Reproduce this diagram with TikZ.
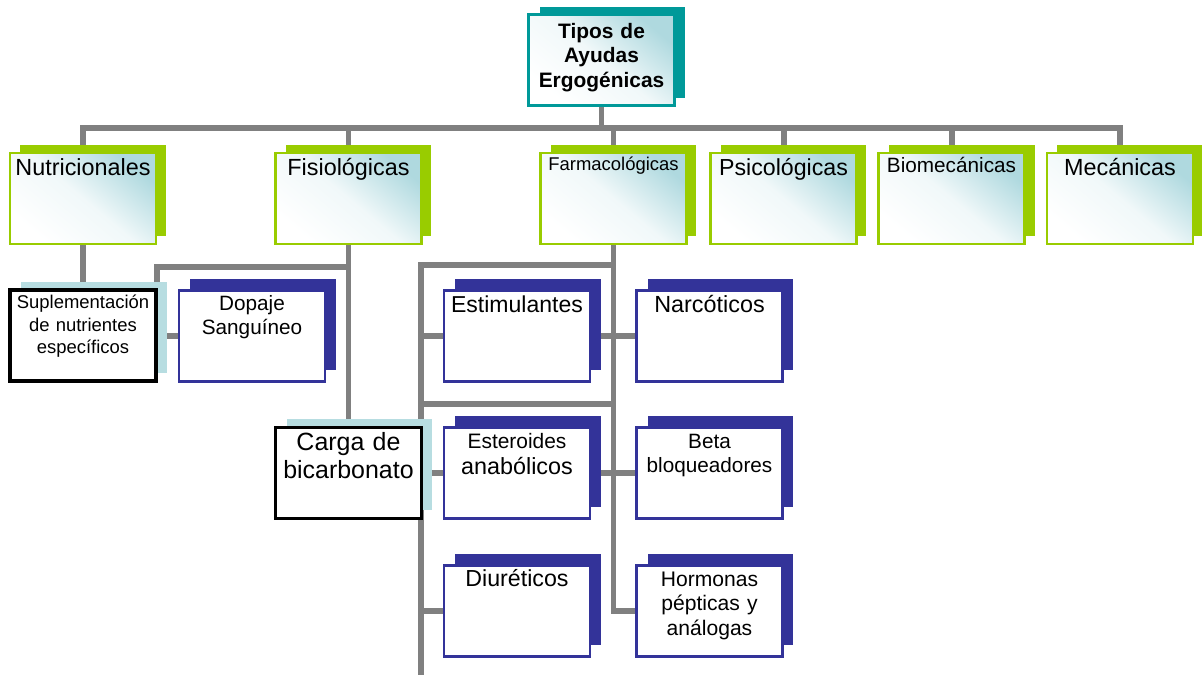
\documentclass[tikz,border=0pt]{standalone}
\usepackage{fontspec}
\setmainfont{Liberation Sans}
\usetikzlibrary{shadows,backgrounds}
\definecolor{leaf}    {HTML}{99CC00}
\definecolor{navyink} {HTML}{333399}
\definecolor{deepteal}{HTML}{009999}
\definecolor{paleblue}{HTML}{B7DDE1}
\definecolor{sky}     {HTML}{AFD9DF}
\definecolor{wiregray}{HTML}{808080}
\newcommand{\fs}[2]{\fontsize{#1}{#2}\selectfont}
\tikzset{
  wire/.style={draw=wiregray,line width=3.4pt},
  card/.style={minimum width=2.92cm,minimum height=1.82cm,text width=2.92cm,
               inner sep=0pt,align=center},
  head/.code={\pgfmathsetlengthmacro\headdepth{1.82cm-#1}%
              \tikzset{text height=#1,text depth=\headdepth}},
  topcard/.style={card,draw=deepteal,line width=1.5pt,
                  top color=sky,bottom color=white,middle color=sky!18!white,shading angle=-40,
                  general shadow={fill=deepteal,draw=none,shadow xshift=0.22cm,shadow yshift=0.16cm}},
  kindcard/.style={card,draw=leaf,line width=1.6pt,
                   top color=sky,bottom color=white,middle color=sky!18!white,shading angle=-40,
                   general shadow={fill=leaf,draw=none,shadow xshift=0.2cm,shadow yshift=0.17cm}},
  drugcard/.style={card,draw=navyink,line width=1.5pt,fill=white,
                   general shadow={fill=navyink,draw=none,shadow xshift=0.22cm,shadow yshift=0.23cm}},
  plaincard/.style={card,draw=black,line width=1.8pt,fill=white,
                    general shadow={fill=paleblue,draw=none,shadow xshift=0.22cm,shadow yshift=0.17cm}}
}
\begin{document}
\begin{tikzpicture}[x=0.02cm,y=-0.02cm]
  \useasboundingbox (0,0) rectangle (1202,674);

  % root
  \node[topcard,head=0.47cm,font=\bfseries\fs{11.9}{14}] (top) at (601.5,60)
    {Tipos de\\Ayudas\\Ergogénicas};

  % kinds of aids
  \node[kindcard,head=0.45cm,font=\fs{13.3}{15}] (nutri) at (83,198.5) {Nutricionales};
  \node[kindcard,head=0.45cm,font=\fs{13.3}{15}] (fisio) at (348.5,198.5) {Fisiológicas};
  \node[kindcard,head=0.35cm,font=\fs{10.5}{13}] (farma) at (613.5,198.5) {Farmacológicas};
  \node[kindcard,head=0.45cm,font=\fs{13.2}{15}] (psico) at (783.5,198.5) {Psicológicas};
  \node[kindcard,head=0.38cm,font=\fs{11.8}{14}] (biom) at (951.5,198.5) {Biomecánicas};
  \node[kindcard,head=0.45cm,font=\fs{13.3}{15}] (mec) at (1120,198.5) {Mecánicas};

  % nutritional / physiological
  \node[plaincard,head=0.37cm,font=\fs{10.5}{12.8}] (supl) at (83,335.5)
    {Suplementación\\de nutrientes\\específicos};
  \node[drugcard,head=0.39cm,font=\fs{11.8}{14.2}] (dopaje) at (252,336)
    {Dopaje\\Sanguíneo};
  \node[plaincard,head=0.46cm,font=\fs{14.2}{16}] (carga) at (348.5,473)
    {Carga de\\bicarbonato};

  % pharmacological
  \node[drugcard,head=0.44cm,font=\fs{13.1}{15}] (estim) at (517,336) {Estimulantes};
  \node[drugcard,head=0.44cm,font=\fs{13.3}{15}] (narc) at (709.5,336) {Narcóticos};
  \node[drugcard,head=0.41cm,font=\fs{13.3}{15}] (ester) at (517,473)
    {{\fs{11.9}{15}Esteroides}\\anabólicos};
  \node[drugcard,head=0.41cm,font=\fs{11.8}{14.2}] (beta) at (709.5,473)
    {Beta\\bloqueadores};
  \node[drugcard,head=0.42cm,font=\fs{13.2}{15}] (diur) at (517,611) {Diuréticos};
  \node[drugcard,head=0.41cm,font=\fs{12}{14}] (horm) at (709.5,611)
    {Hormonas\\pépticas y\\análogas};

  \coordinate (bar) at (601.5,128);
  \coordinate (fisj) at (348.5,267);
  \coordinate (dopj) at (157,336);
  \coordinate (farj) at (613.5,265);
  \coordinate (farl) at (421,265);
  \coordinate (farend) at (421,676);
  \coordinate (farbot) at (421,404);

  \begin{scope}[on background layer]
    \draw[wire] (top.south) -- (bar);
    \draw[wire] (nutri.north) |- (bar) -| (mec.north);
    \foreach \n in {fisio,farma,psico,biom}
      \draw[wire] (\n.north) -- (\n.north |- bar);
    \draw[wire] (nutri.south) -- (supl.north);
    \draw[wire] (fisio.south) -- (carga.north);
    \draw[wire] (fisj) -| (dopj) -- (dopaje.west);
    \draw[wire] (farma.south) |- (horm.west);
    \draw[wire] (farj) -| (farend);
    \draw[wire] (farbot) -- (farbot -| farma.south);
    \draw[wire] (farl |- estim.west) -- (estim.west);
    \draw[wire] (estim.east) -- (narc.west);
    \draw[wire] (carga.east) -- (ester.west);
    \draw[wire] (ester.east) -- (beta.west);
    \draw[wire] (farl |- diur.west) -- (diur.west);
  \end{scope}
\end{tikzpicture}
\end{document}
